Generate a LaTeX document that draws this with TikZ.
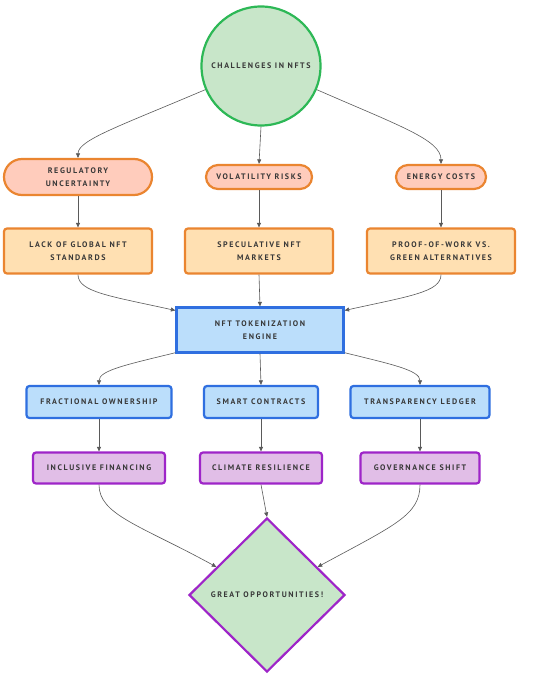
\documentclass[tikz,border=0pt]{standalone}
\usepackage{fontspec}
\usetikzlibrary{shapes.geometric,arrows.meta}
\newfontfamily\labfont[LetterSpace=20]{PT Sans}
\definecolor{gfill}{HTML}{C8E6C9}
\definecolor{gline}{HTML}{2DB856}
\definecolor{sfill}{HTML}{FFCCBC}
\definecolor{oline}{HTML}{EA8530}
\definecolor{ofill}{HTML}{FFE0B2}
\definecolor{bfill}{HTML}{BBDEFB}
\definecolor{bline}{HTML}{2F6FE0}
\definecolor{pfill}{HTML}{E1BEE7}
\definecolor{pline}{HTML}{9E25C8}
\definecolor{txt}{HTML}{383838}
\definecolor{edge}{HTML}{5A5A5A}
\tikzset{
  base/.style={font=\labfont\bfseries\fontsize{8}{12.5}\selectfont, text=txt, align=center, inner sep=0pt, line width=2.2pt},
  startnode/.style={base, circle, draw=gline, fill=gfill, minimum size=119pt},
  stadium/.style={base, rectangle, rounded corners=12pt, draw=oline, fill=sfill, minimum height=24pt},
  obox/.style={base, rectangle, rounded corners=3pt, draw=oline, fill=ofill, minimum width=148pt, minimum height=45pt},
  engbox/.style={base, rectangle, draw=bline, fill=bfill, minimum width=167pt, minimum height=45pt},
  bbox/.style={base, rectangle, rounded corners=3pt, draw=bline, fill=bfill, minimum height=32pt},
  pbox/.style={base, rectangle, rounded corners=3pt, draw=pline, fill=pfill, minimum height=31pt},
  endnode/.style={base, diamond, aspect=1, draw=pline, fill=gfill, minimum width=156pt, minimum height=154pt},
  conn/.style={draw=edge, line width=0.6pt, -{Triangle[length=4.5pt,width=4pt]}}
}
\begin{document}
\begin{tikzpicture}[x=1pt,y=-1pt]
\useasboundingbox (0,0) rectangle (535,679);
\fill[white] (0,0) rectangle (535,679);
\node[startnode] (c) at (261,66) {CHALLENGES IN NFTS};
\node[stadium, minimum width=148pt, minimum height=36pt, rounded corners=18pt] (reg) at (78,177) {REGULATORY\\UNCERTAINTY};
\node[stadium, minimum width=106pt] (vol) at (259,177) {VOLATILITY RISKS};
\node[stadium, minimum width=90pt] (ene) at (441,177) {ENERGY COSTS};
\node[obox] (lack) at (78,251) {LACK OF GLOBAL NFT\\STANDARDS};
\node[obox] (spec) at (259,251) {SPECULATIVE NFT\\MARKETS};
\node[obox] (pow) at (441,251) {PROOF-OF-WORK VS.\\GREEN ALTERNATIVES};
\node[engbox] (eng) at (260,330) {NFT TOKENIZATION\\ENGINE};
\node[bbox, minimum width=145pt] (frac) at (99,402) {FRACTIONAL OWNERSHIP};
\node[bbox, minimum width=114pt] (smart) at (261,402) {SMART CONTRACTS};
\node[bbox, minimum width=139pt] (trans) at (420,402) {TRANSPARENCY LEDGER};
\node[pbox, minimum width=132pt] (incl) at (99,468) {INCLUSIVE FINANCING};
\node[pbox, minimum width=122pt] (clim) at (261,468) {CLIMATE RESILIENCE};
\node[pbox, minimum width=119pt] (gov) at (420,468) {GOVERNANCE SHIFT};
\node[endnode] (opp) at (267,595) {GREAT OPPORTUNITIES!};
% edges
\draw[conn] (c.203) .. controls (120,126) and (78,140) .. (reg.north);
\draw[conn] (c.south) -- (vol.north);
\draw[conn] (c.337) .. controls (400,126) and (441,140) .. (ene.north);
\draw[conn] (reg.south) -- (lack.north);
\draw[conn] (vol.south) -- (spec.north);
\draw[conn] (ene.south) -- (pow.north);
\draw[conn] (lack.south) .. controls (78,292) and (110,296) .. (eng.167);
\draw[conn] (spec.south) -- (eng.north);
\draw[conn] (pow.south) .. controls (441,292) and (410,296) .. (eng.13);
\draw[conn] (eng.195) .. controls (130,364) and (99,370) .. (frac.north);
\draw[conn] (eng.south) -- (smart.north);
\draw[conn] (eng.345) .. controls (390,364) and (420,370) .. (trans.north);
\draw[conn] (frac.south) -- (incl.north);
\draw[conn] (smart.south) -- (clim.north);
\draw[conn] (trans.south) -- (gov.north);
\draw[conn] (incl.south) .. controls (99,515) and (140,525) .. (opp.151);
\draw[conn] (clim.south) -- (opp.north);
\draw[conn] (gov.south) .. controls (420,515) and (395,525) .. (opp.29);
\end{tikzpicture}
\end{document}
